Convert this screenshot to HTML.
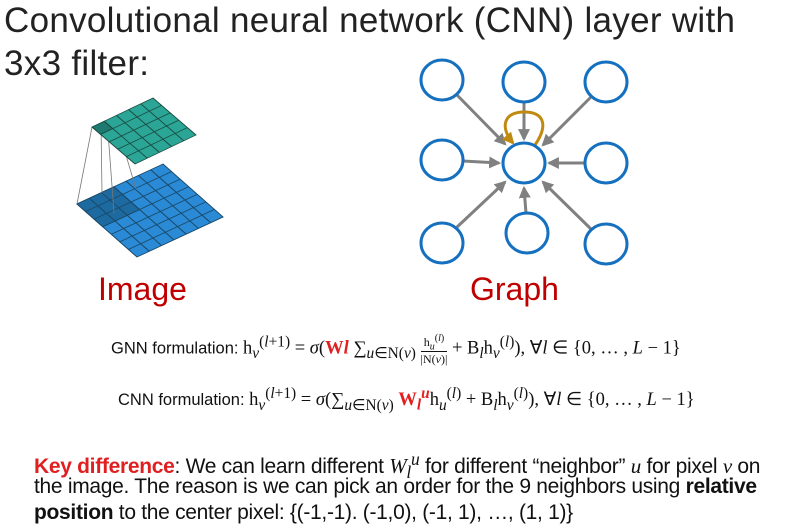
<!DOCTYPE html>
<html><head><meta charset="utf-8"><style>
body{margin:0;width:804px;height:529px;background:#fff;overflow:hidden;position:relative;font-family:"Liberation Sans",sans-serif}
.t{position:absolute;left:4px;font-size:35px;color:#222;white-space:nowrap;letter-spacing:0.3px}
.lab{position:absolute;font-size:32px;color:#c00000}
.f{position:absolute;font-size:18.5px;color:#111;white-space:nowrap;font-family:"Liberation Serif",serif}
.f .s{font-family:"Liberation Sans",sans-serif;font-size:16.5px}
.r{color:#e02020;font-weight:bold}
.p{position:absolute;left:34px;font-size:21px;color:#111;white-space:nowrap;letter-spacing:-0.3px}
i{font-family:"Liberation Serif",serif}
</style></head><body>
<div class="t" style="top:1px">Convolutional neural network (CNN) layer with</div>
<div class="t" style="top:44px">3x3 filter:</div>
<svg width="804" height="529" style="position:absolute;left:0;top:0">
<defs>
<marker id="a" markerWidth="4" markerHeight="4" refX="3.3" refY="2" orient="auto"><path d="M0,0L4,2L0,4z" fill="#808080"/></marker>
<marker id="b" markerWidth="4" markerHeight="4" refX="3.3" refY="2" orient="auto"><path d="M0,0L4,2L0,4z" fill="#c08a10"/></marker>
</defs>
<g transform="matrix(86,-40,60,53,77,204)" stroke="#1a4a6a" stroke-width="0.012">
<rect width="1" height="1" fill="#2a8ad6"/>
<rect width="0.4286" height="0.4286" fill="#1d6aa0"/>
<path d="M0.1429,0V1M0.2857,0V1M0.4286,0V1M0.5714,0V1M0.7143,0V1M0.8571,0V1M0,0.1429H1M0,0.2857H1M0,0.4286H1M0,0.5714H1M0,0.7143H1M0,0.8571H1" fill="none"/>
</g>
<g stroke="#777" stroke-width="0.8" fill="none">
<line x1="92" y1="127" x2="77" y2="204"/><line x1="101" y1="123" x2="102" y2="193"/><line x1="108" y1="132" x2="114" y2="213"/><line x1="120" y1="135" x2="136" y2="189"/>
</g>
<g transform="matrix(61,-29,43,37,92,127)" stroke="#1a4a40" stroke-width="0.015">
<rect width="1" height="1" fill="#2aa596"/>
<rect width="0.2" height="0.2" fill="#1e7a70"/>
<path d="M0.2,0V1M0.4,0V1M0.6,0V1M0.8,0V1M0,0.2H1M0,0.4H1M0,0.6H1M0,0.8H1" fill="none"/>
</g>
<g stroke="#808080" stroke-width="3" marker-end="url(#a)">
<line x1="456" y1="94" x2="505" y2="144"/>
<line x1="524" y1="102" x2="524" y2="139"/>
<line x1="592" y1="96" x2="543" y2="145"/>
<line x1="463" y1="161" x2="499" y2="163"/>
<line x1="585" y1="163" x2="549" y2="163"/>
<line x1="456" y1="228" x2="505" y2="182"/>
<line x1="526" y1="213" x2="524" y2="188"/>
<line x1="592" y1="230" x2="543" y2="182"/>
</g>
<path d="M535,145 C548,126 545,112 524,112 C503,112 500,128 513,143" stroke="#c08a10" stroke-width="3" fill="none" marker-end="url(#b)"/>
<g fill="#fff" stroke="#1570c0" stroke-width="3">
<ellipse cx="442" cy="80" rx="21" ry="20"/><ellipse cx="524" cy="82" rx="21" ry="20"/><ellipse cx="606" cy="82" rx="21" ry="20"/>
<ellipse cx="442" cy="160" rx="21" ry="20"/><ellipse cx="524" cy="163" rx="21" ry="20"/><ellipse cx="606" cy="163" rx="21" ry="20"/>
<ellipse cx="442" cy="243" rx="21" ry="20"/><ellipse cx="527" cy="233" rx="21" ry="20"/><ellipse cx="606" cy="244" rx="21" ry="20"/>
</g>
</svg>
<div class="lab" style="left:98px;top:271px">Image</div>
<div class="lab" style="left:470px;top:271px">Graph</div>
<div class="f" style="left:111px;top:332px"><span class="s">GNN formulation: </span>h<sub><i>v</i></sub><sup>(<i>l</i>+1)</sup> = <i>σ</i>(<span class="r">W<i>l</i></span> ∑<sub><i>u</i>∈N(<i>v</i>)</sub> <span style="display:inline-block;vertical-align:middle;text-align:center;font-size:12px;line-height:13px"><span>h<sub><i>u</i></sub><sup>(<i>l</i>)</sup></span><br><span style="border-top:1px solid #111">|N(<i>v</i>)|</span></span> + B<sub><i>l</i></sub>h<sub><i>v</i></sub><sup>(<i>l</i>)</sup>), ∀<i>l</i> ∈ {0, … , <i>L</i> − 1}</div>
<div class="f" style="left:118px;top:385px"><span class="s">CNN formulation: </span>h<sub><i>v</i></sub><sup>(<i>l</i>+1)</sup> = <i>σ</i>(∑<sub><i>u</i>∈N(<i>v</i>)</sub> <span class="r">W<sub><i>l</i></sub><sup><i>u</i></sup></span>h<sub><i>u</i></sub><sup>(<i>l</i>)</sup> + B<sub><i>l</i></sub>h<sub><i>v</i></sub><sup>(<i>l</i>)</sup>), ∀<i>l</i> ∈ {0, … , <i>L</i> − 1}</div>
<div class="p" style="top:449px"><b style="color:#e02020">Key difference</b>: We can learn different <i>W<sub>l</sub><sup>u</sup></i> for different “neighbor” <i>u</i> for pixel <i>v</i> on</div>
<div class="p" style="top:475px">the image. The reason is we can pick an order for the 9 neighbors using <b>relative</b></div>
<div class="p" style="top:501px"><b>position</b> to the center pixel: {(-1,-1). (-1,0), (-1, 1), …, (1, 1)}</div>
</body></html>
